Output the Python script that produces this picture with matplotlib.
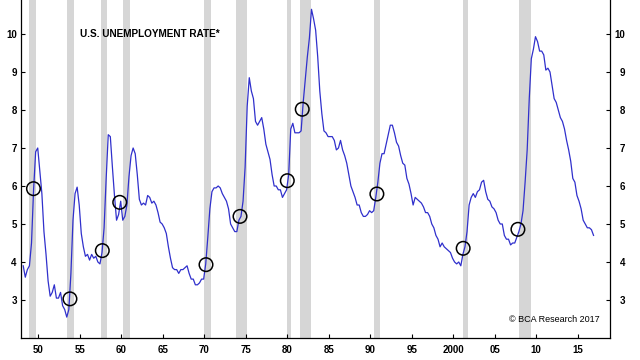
import numpy as np
import matplotlib
matplotlib.use("Agg")
import matplotlib.pyplot as plt

plt.rcParams['font.family'] = ['Liberation Sans', 'DejaVu Sans']

# unemployment rate, 3-month average, one value per quarter (end of quarter)
first_year = 1948
rate = [
    3.9, 3.6, 3.8, 3.9,      # 1948
    4.5, 5.9, 6.9, 7.0,      # 1949
    6.4, 5.8, 4.8, 4.2,      # 1950
    3.5, 3.1, 3.2, 3.4,      # 1951
    3.05, 3.05, 3.2, 2.85,   # 1952
    2.75, 2.55, 2.75, 3.7,   # 1953
    5.1, 5.8, 5.97, 5.5,     # 1954
    4.75, 4.4, 4.15, 4.2,    # 1955
    4.05, 4.2, 4.1, 4.15,    # 1956
    4.0, 3.95, 4.25, 4.9,    # 1957
    6.2, 7.35, 7.3, 6.5,     # 1958
    5.75, 5.1, 5.25, 5.6,    # 1959
    5.1, 5.2, 5.5, 6.25,     # 1960
    6.8, 7.0, 6.85, 6.3,     # 1961
    5.65, 5.5, 5.55, 5.5,    # 1962
    5.75, 5.7, 5.55, 5.6,    # 1963
    5.5, 5.3, 5.05, 5.0,     # 1964
    4.9, 4.75, 4.4, 4.1,     # 1965
    3.85, 3.8, 3.8, 3.7,     # 1966
    3.8, 3.8, 3.85, 3.9,     # 1967
    3.7, 3.55, 3.55, 3.4,    # 1968
    3.4, 3.45, 3.55, 3.55,   # 1969
    3.95, 4.65, 5.4, 5.85,   # 1970
    5.95, 5.95, 6.0, 5.95,   # 1971
    5.8, 5.7, 5.6, 5.4,      # 1972
    5.0, 4.9, 4.8, 4.8,      # 1973
    5.1, 5.2, 5.6, 6.5,      # 1974
    8.1, 8.85, 8.5, 8.3,     # 1975
    7.7, 7.6, 7.7, 7.8,      # 1976
    7.5, 7.1, 6.9, 6.7,      # 1977
    6.3, 6.0, 6.0, 5.9,      # 1978
    5.9, 5.7, 5.8, 5.9,      # 1979
    6.3, 7.5, 7.65, 7.4,     # 1980
    7.4, 7.4, 7.45, 8.2,     # 1981
    8.8, 9.4, 9.9, 10.65,    # 1982
    10.4, 10.1, 9.4, 8.5,    # 1983
    7.9, 7.45, 7.4, 7.3,     # 1984
    7.3, 7.3, 7.2, 6.95,     # 1985
    7.0, 7.2, 6.95, 6.8,     # 1986
    6.6, 6.3, 6.0, 5.85,     # 1987
    5.7, 5.5, 5.5, 5.3,      # 1988
    5.2, 5.2, 5.25, 5.35,    # 1989
    5.3, 5.35, 5.7, 6.1,     # 1990
    6.6, 6.85, 6.85, 7.1,    # 1991
    7.35, 7.6, 7.6, 7.4,     # 1992
    7.15, 7.05, 6.8, 6.6,    # 1993
    6.55, 6.2, 6.05, 5.8,    # 1994
    5.5, 5.7, 5.65, 5.6,     # 1995
    5.55, 5.45, 5.3, 5.3,    # 1996
    5.2, 5.0, 4.9, 4.7,      # 1997
    4.6, 4.4, 4.5, 4.4,      # 1998
    4.35, 4.3, 4.25, 4.1,    # 1999
    4.0, 3.95, 4.0, 3.9,     # 2000
    4.2, 4.4, 4.8, 5.5,      # 2001
    5.7, 5.8, 5.7, 5.85,     # 2002
    5.9, 6.1, 6.15, 5.85,    # 2003
    5.65, 5.6, 5.45, 5.4,    # 2004
    5.3, 5.1, 5.0, 5.0,      # 2005
    4.7, 4.6, 4.6, 4.45,     # 2006
    4.5, 4.5, 4.65, 4.8,     # 2007
    5.0, 5.35, 6.1, 6.95,    # 2008
    8.3, 9.35, 9.6, 9.93,    # 2009
    9.8, 9.55, 9.55, 9.45,   # 2010
    9.05, 9.1, 9.0, 8.65,    # 2011
    8.3, 8.2, 8.0, 7.8,      # 2012
    7.7, 7.5, 7.2, 6.95,     # 2013
    6.65, 6.2, 6.1, 5.75,    # 2014
    5.6, 5.4, 5.1, 5.0,      # 2015
    4.9, 4.9, 4.85, 4.7,     # 2016
]
dates = first_year + np.arange(len(rate)) * 0.25 + 2 / 12

# NBER recessions (start, end)
rec_start = [1948.83, 1953.5, 1957.58, 1960.25, 1969.92, 1973.83, 1980.0, 1981.5, 1990.5, 2001.17, 2007.92]
rec_end = [1949.75, 1954.33, 1958.25, 1961.08, 1970.83, 1975.17, 1980.5, 1982.83, 1991.17, 2001.83, 2009.42]

# circled points
circle_x = [1949.4, 1953.8, 1957.7, 1959.8, 1970.2, 1974.3, 1980.0, 1981.8, 1990.8, 2001.2, 2007.8]
circle_y = [5.93, 3.03, 4.3, 5.57, 3.93, 5.2, 6.14, 8.02, 5.79, 4.36, 4.86]

xticks = [1950, 1955, 1960, 1965, 1970, 1975, 1980, 1985, 1990, 1995, 2000, 2005, 2010, 2015]
xlabels = ['50', '55', '60', '65', '70', '75', '80', '85', '90', '95', '2000', '05', '10', '15']
yticks = [3, 4, 5, 6, 7, 8, 9, 10, 11]

fig = plt.figure(figsize=(6.4, 3.6), dpi=100)
ax = fig.add_axes([21 / 640, 22 / 360, 589 / 640, 342 / 360])

for s, e in zip(rec_start, rec_end):
    ax.axvspan(s, e, color='#d6d6d6', lw=0, zorder=1)

ax.plot(dates, rate, color='#3030cc', lw=0.9, zorder=3)
ax.scatter(circle_x, circle_y, s=95, facecolors='none', edgecolors='black', linewidths=1.1, zorder=4)

ax.set_xlim(1947.9, 2018.9)
ax.set_ylim(2, 11)
ax.set_xticks(xticks)
ax.set_xticklabels(xlabels, fontweight='bold')
ax.set_yticks(yticks)
ax.set_yticklabels([str(v) for v in yticks], fontweight='bold')

ax.spines['top'].set_visible(False)
for sp in ['left', 'right', 'bottom']:
    ax.spines[sp].set_linewidth(0.9)

ax.tick_params(axis='x', direction='in', length=3, width=0.8, pad=5, labelsize=7)
ax.tick_params(axis='y', direction='in', length=3, width=0.8, pad=3, labelsize=7,
               left=True, right=False)

# right-hand scale, labels right-aligned like the original
ax2 = ax.twinx()
ax2.set_ylim(2, 11)
ax2.set_yticks(yticks)
ax2.set_yticklabels([str(v) for v in yticks], fontweight='bold', ha='right')
ax2.tick_params(axis='y', direction='in', length=3, width=0.8, pad=11, labelsize=7)
for sp in ax2.spines.values():
    sp.set_visible(False)

ax.text(1955.0, 10.0, 'U.S. UNEMPLOYMENT RATE*', fontsize=7.2, fontweight='bold',
        ha='left', va='center', zorder=5)
ax.text(2017.7, 2.49, '\u00a9 BCA Research 2017', fontsize=6.5, ha='right', va='center', zorder=5)

fig.savefig('out.png', dpi=100)
